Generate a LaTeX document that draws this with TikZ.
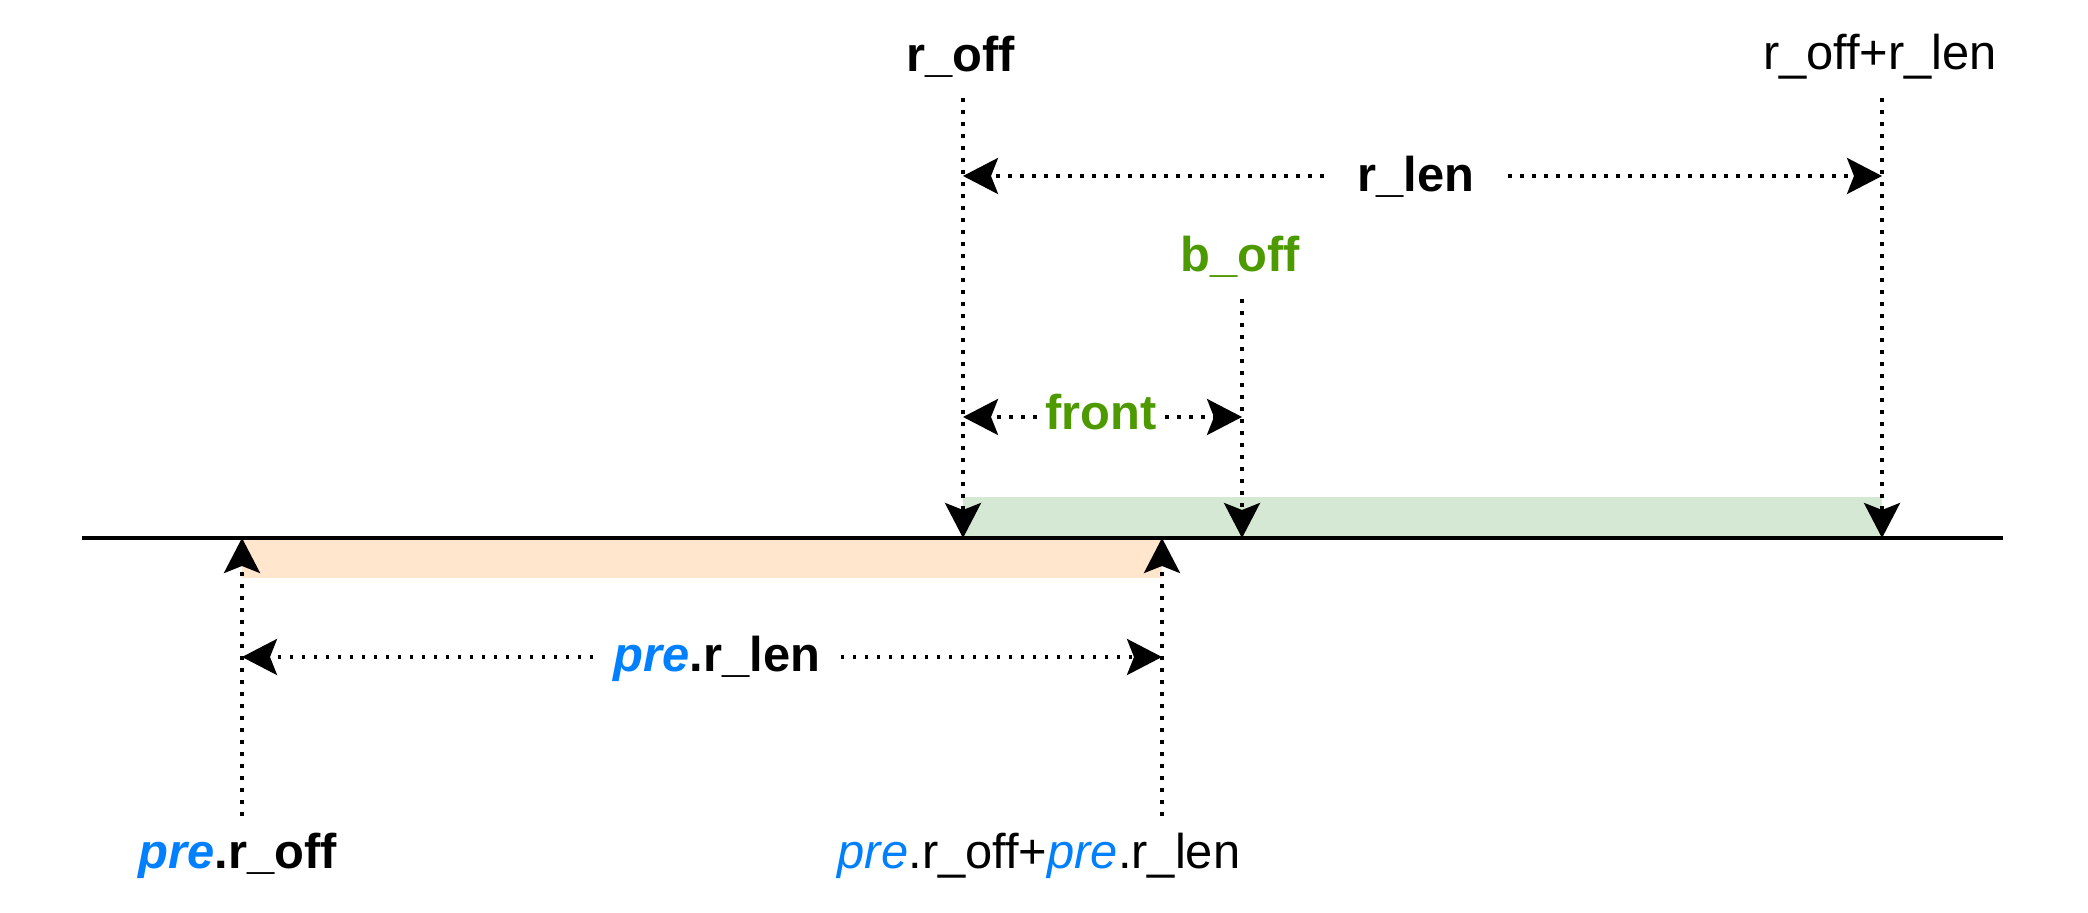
\documentclass[tikz,border=0pt]{standalone}
\usepackage{fontspec}
\setmainfont{Liberation Sans}
\usetikzlibrary{arrows.meta}
\definecolor{boffgreen}{HTML}{4D9900}
\definecolor{preblue}{HTML}{007FFF}
\definecolor{curfill}{HTML}{D5E8D4}
\definecolor{prefill}{HTML}{FFE6CC}
\newcommand{\prev}{\textcolor{preblue}{\textit{pre}}}

\begin{document}
\begin{tikzpicture}[
    dimline/.style={line width=1.05pt, dash pattern=on 0.036cm off 0.084cm,
        -{Stealth[length=0.35cm,width=0.36cm,inset=0.07cm]}},
    lbl/.style={anchor=base, inner ysep=0pt, inner xsep=0pt,
        font=\fontsize{13.9}{16}\selectfont}
    ]
\useasboundingbox (0,0) rectangle (20.88,9.13);
% ranges on the axis
\fill[curfill] (9.63,3.75) rectangle (18.82,4.16);
\fill[prefill] (2.42,3.35) rectangle (11.62,3.75);
\draw[line width=0.95pt] (0.82,3.75) -- (20.03,3.75);
\coordinate (roff) at (9.63,3.75);
\coordinate (rend) at (18.82,3.75);
\coordinate (boff) at (12.42,3.75);
\coordinate (preoff) at (2.42,3.75);
\coordinate (preend) at (11.62,3.75);
\coordinate (roffT) at (9.63,8.15);
\coordinate (rendT) at (18.82,8.15);
\coordinate (boffT) at (12.42,6.14);
\coordinate (preoffT) at (2.42,0.97);
\coordinate (preendT) at (11.62,0.97);
\draw[dimline] (roffT) -- (roff);
\draw[dimline] (rendT) -- (rend);
\draw[dimline] (boffT) -- (boff);
\draw[dimline] (preoffT) -- (preoff);
\draw[dimline] (preendT) -- (preend);
% labels
\node[lbl] (roffL) at (9.61,8.41) {\textbf{r\_off}};
\node[lbl] (rendL) at (18.80,8.43) {r\_off+r\_len};
\node[lbl, text=boffgreen] (boffL) at (12.40,6.41) {\textbf{b\_off}};
\node[lbl] (preoffL) at (2.38,0.44) {\textbf{\prev.r\_off}};
\node[lbl] (preendL) at (10.39,0.44) {\prev.r\_off+\prev.r\_len};
% lengths
\coordinate (lenA) at (9.63,7.37);
\coordinate (lenB) at (18.82,7.37);
\coordinate (frontA) at (9.63,4.96);
\coordinate (frontB) at (12.42,4.96);
\coordinate (prelenA) at (2.42,2.56);
\coordinate (prelenB) at (11.62,2.56);
\node[lbl, inner xsep=0.33cm] (rlenL) at (14.16,7.21) {\textbf{r\_len}};
\node[lbl, inner xsep=0.08cm, text=boffgreen] (frontL) at (11.01,4.83) {\textbf{front}};
\node[lbl, inner xsep=0.2cm] (prelenL) at (7.17,2.41) {\textbf{\prev.r\_len}};
\draw[dimline] (rlenL.west |- lenA) -- (lenA);
\draw[dimline] (rlenL.east |- lenB) -- (lenB);
\draw[dimline] (frontL.west |- frontA) -- (frontA);
\draw[dimline] (frontL.east |- frontB) -- (frontB);
\draw[dimline] (prelenL.west |- prelenA) -- (prelenA);
\draw[dimline] (prelenL.east |- prelenB) -- (prelenB);
\end{tikzpicture}
\end{document}
